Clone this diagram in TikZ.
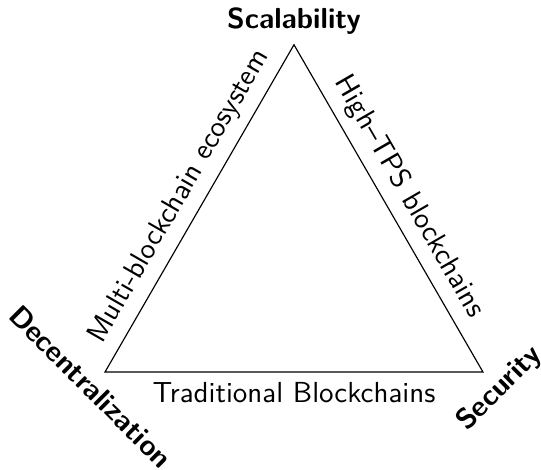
\documentclass[tikz,border=0pt]{standalone}
\usepackage{tikz}
\usetikzlibrary{positioning}
\definecolor{trInk}{HTML}{000000}
\tikzset{
  tr edge/.style={draw=trInk, line width=.4pt, line join=miter},
  tr corner/.style={font=\sffamily\bfseries, text=trInk},
  tr side/.style={font=\sffamily, text=trInk, midway}
}

\begin{document}
\begin{tikzpicture}[x=1cm,y=1cm]
  \useasboundingbox (-1.274,-1.177) rectangle (5.289,4.513);
  \coordinate (dec) at (0,0);
  \coordinate (sec) at (4.585,0);
  \coordinate (sca) at (2.2925,3.970);

  % the three sides
  \draw[tr edge] (dec) -- node[tr side, sloped, above] (multi) {Multi-blockchain ecosystem} (sca)
    -- node[tr side, sloped, above] (hightps) {High--TPS blockchains} (sec) -- cycle;
  \path (dec) -- node[tr side, below] (trad) {Traditional Blockchains} (sec);

  % corners
  \node[tr corner, anchor=south] (scaLabel) at (sca) {Scalability};
  \node[tr corner, rotate=-45, anchor=north] (decLabel) at (dec) {Decentralization};
  \node[tr corner, rotate=45, anchor=north] (secLabel) at (sec) {Security};
\end{tikzpicture}
\end{document}
